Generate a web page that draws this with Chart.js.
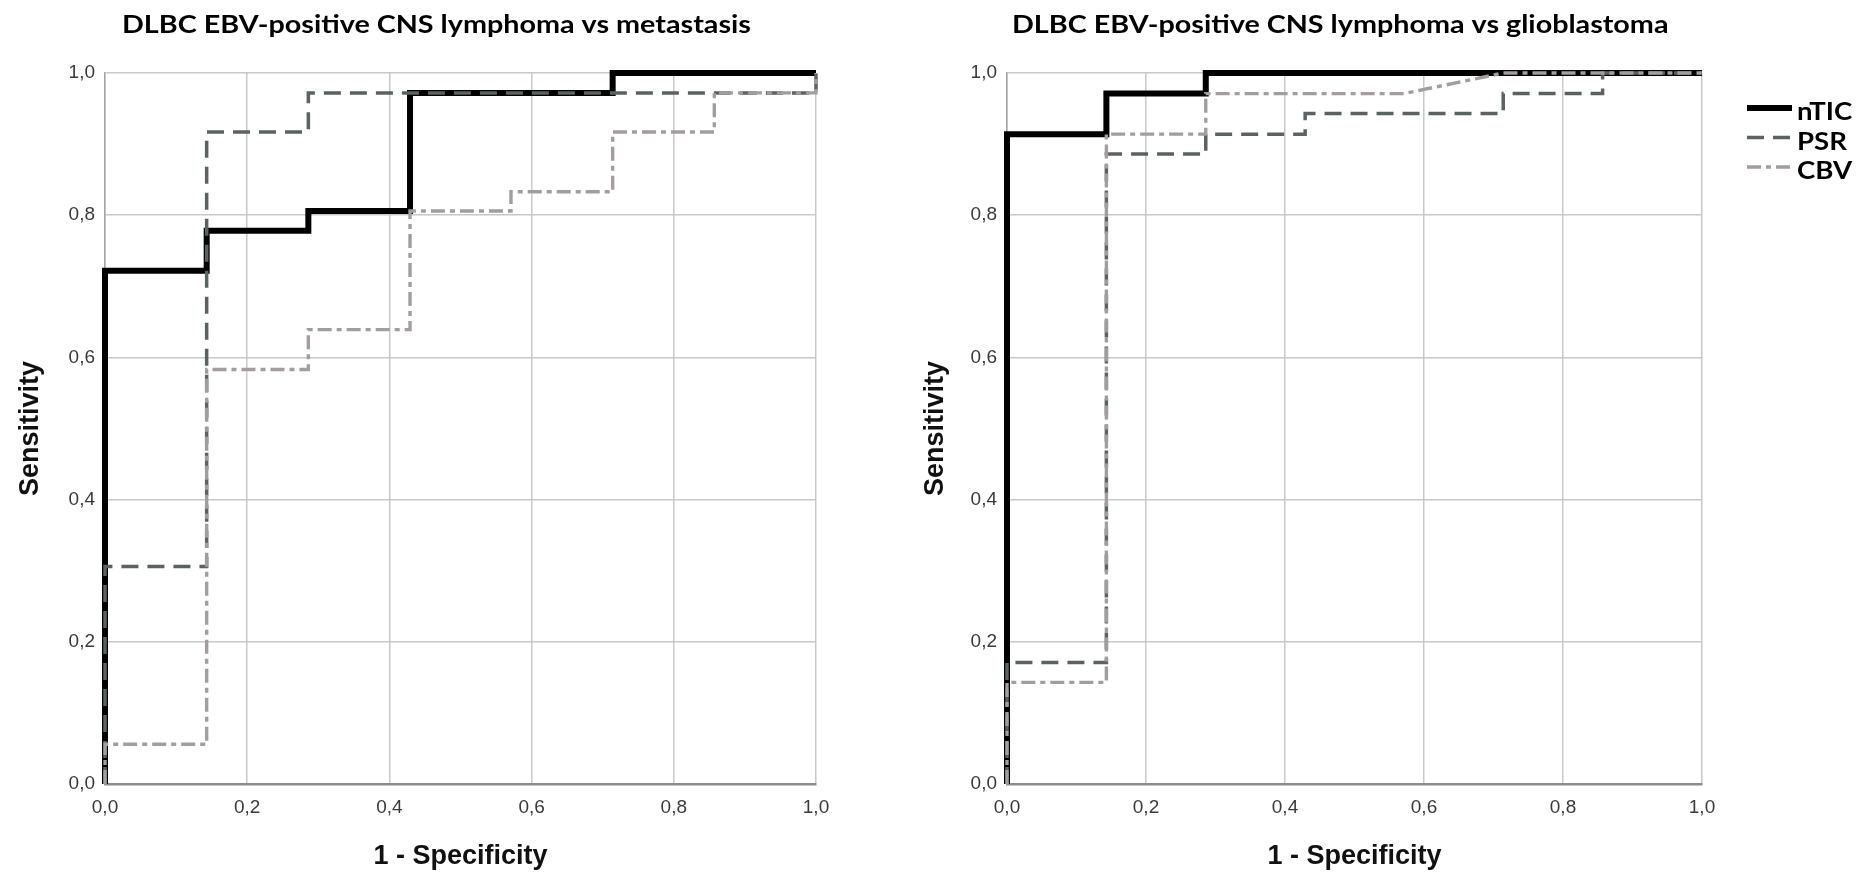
<!DOCTYPE html>
<html><head><meta charset="utf-8">
<script src="https://cdn.jsdelivr.net/npm/chart.js@4.4.1/dist/chart.umd.min.js"></script>
<style>
html,body{margin:0;padding:0;background:#fff;width:1863px;height:876px;overflow:hidden;}
#w1{position:absolute;left:0;top:0;width:900px;height:876px;}
#w2{position:absolute;left:900px;top:0;width:963px;height:876px;}
</style></head><body>
<div id="w1"><canvas id="c1"></canvas></div>
<div id="w2"><canvas id="c2"></canvas></div>
<script>
// ---- data ----
const tickValues = [0, 0.2, 0.4, 0.6, 0.8, 1.0];
const seriesNames = ['nTIC', 'PSR', 'CBV'];
const titleMet = 'DLBC EBV-positive CNS lymphoma vs metastasis';
const titleGbm = 'DLBC EBV-positive CNS lymphoma vs glioblastoma';
const xAxisLabel = '1 - Specificity';
const yAxisLabel = 'Sensitivity';

// lymphoma vs metastasis (x = 1 - specificity, y = sensitivity)
const metNticX = [0, 0, 0.143, 0.143, 0.286, 0.286, 0.429, 0.429, 0.714, 0.714, 1];
const metNticY = [0, 0.722, 0.722, 0.778, 0.778, 0.806, 0.806, 0.972, 0.972, 1, 1];
const metPsrX = [0, 0, 0.143, 0.143, 0.286, 0.286, 1, 1];
const metPsrY = [0, 0.306, 0.306, 0.917, 0.917, 0.972, 0.972, 1];
const metCbvX = [0, 0, 0.143, 0.143, 0.286, 0.286, 0.429, 0.429, 0.571, 0.571, 0.714, 0.714, 0.857, 0.857, 1, 1];
const metCbvY = [0, 0.056, 0.056, 0.583, 0.583, 0.639, 0.639, 0.806, 0.806, 0.833, 0.833, 0.917, 0.917, 0.972, 0.972, 1];

// lymphoma vs glioblastoma
const gbmNticX = [0, 0, 0.143, 0.143, 0.286, 0.286, 1];
const gbmNticY = [0, 0.914, 0.914, 0.971, 0.971, 1, 1];
const gbmPsrX = [0, 0, 0.143, 0.143, 0.286, 0.286, 0.429, 0.429, 0.714, 0.714, 0.857, 0.857, 1];
const gbmPsrY = [0, 0.171, 0.171, 0.886, 0.886, 0.914, 0.914, 0.943, 0.943, 0.971, 0.971, 1, 1];
const gbmCbvX = [0, 0, 0.143, 0.143, 0.286, 0.286, 0.571, 0.714, 1];
const gbmCbvY = [0, 0.143, 0.143, 0.914, 0.914, 0.971, 0.971, 1, 1];

// ---- styles ----
const styles = [
  {color: '#000000', width: 6, dash: []},
  {color: '#5b6361', width: 3.5, dash: [17, 9]},
  {color: '#a39da0', width: 3.4, dash: [14, 5, 5, 5]}
];
const TITLE_FONT = 'bold 25px Lato';

const annotPlugin = {
  id: 'annot',
  afterDraw(chart, args, opts) {
    const ctx = chart.ctx;
    ctx.save();
    ctx.font = TITLE_FONT;
    const ref = ctx.measureText(titleMet).width;
    const sx = opts.refWidth / ref;
    ctx.fillStyle = '#000';
    ctx.textBaseline = 'alphabetic';
    ctx.textAlign = 'left';
    ctx.save();
    ctx.translate(opts.titleX, opts.titleY);
    ctx.scale(sx, 1);
    ctx.fillText(opts.title, 0, 0);
    ctx.restore();
    if (opts.legend) {
      const L = opts.legend;
      ctx.font = 'bold 24px Lato';
      chart.data.datasets.forEach((ds, i) => {
        const y = L.y + i * L.step;
        ctx.save();
        ctx.strokeStyle = ds.borderColor;
        ctx.lineWidth = ds.borderWidth;
        ctx.setLineDash(ds.borderDash || []);
        ctx.lineCap = 'butt';
        ctx.beginPath();
        ctx.moveTo(L.x, y);
        ctx.lineTo(L.x + L.len, y);
        ctx.stroke();
        ctx.restore();
        ctx.save();
        ctx.translate(L.x + L.len + 5, y + 12);
        ctx.scale(sx, 1);
        ctx.fillStyle = '#000';
        ctx.fillText(ds.label, 0, 0);
        ctx.restore();
      });
    }
    ctx.restore();
  }
};

function fmt(v) { return Number(v).toFixed(1).replace('.', ','); }

function makeChart(canvasId, series, cfg) {
  const datasets = series.map((s, i) => ({
    label: seriesNames[i],
    data: s.x.map((v, j) => ({x: v, y: s.y[j]})),
    borderColor: styles[i].color,
    borderWidth: styles[i].width,
    borderDash: styles[i].dash,
    borderCapStyle: 'butt',
    borderJoinStyle: 'miter',
    pointRadius: 0,
    pointHoverRadius: 0,
    tension: 0,
    fill: false,
    showLine: true,
    order: 3 - i,
    clip: false
  }));
  const tickFont = {family: 'Liberation Sans', size: 19};
  const titleFont = {family: 'Liberation Sans', size: 27, weight: 'bold'};
  return new Chart(document.getElementById(canvasId), {
    type: 'scatter',
    data: {datasets},
    plugins: [annotPlugin],
    options: {
      responsive: true,
      maintainAspectRatio: false,
      animation: false,
      devicePixelRatio: 1,
      layout: {padding: {left: 0, top: cfg.padTop, right: cfg.padRight, bottom: 0}},
      plugins: {
        legend: {display: false},
        tooltip: {enabled: false},
        annot: {title: cfg.title, titleX: cfg.titleX, titleY: cfg.titleY, refWidth: 629, legend: cfg.legend}
      },
      scales: {
        x: {
          type: 'linear', min: 0, max: 1,
          afterBuildTicks: s => { s.ticks = tickValues.map(v => ({value: v})); },
          afterFit: s => { s.height = 92; },
          ticks: {callback: fmt, font: tickFont, color: '#3a3a3a', padding: 12, maxRotation: 0, autoSkip: false},
          grid: {color: '#c8c8c8', lineWidth: 1.5, drawTicks: false},
          border: {display: true, color: '#8c8c8c', width: 2.5},
          title: {display: true, text: xAxisLabel, font: titleFont, color: '#111', padding: {top: 0, bottom: 3}}
        },
        y: {
          type: 'linear', min: 0, max: 1,
          afterBuildTicks: s => { s.ticks = tickValues.map(v => ({value: v})); },
          afterFit: s => { s.width = cfg.yWidth; },
          ticks: {callback: fmt, font: tickFont, color: '#3a3a3a', padding: 10, autoSkip: false},
          grid: {color: '#c8c8c8', lineWidth: 1.5, drawTicks: false},
          border: {display: true, color: '#a5a5a5', width: 1.5},
          title: {display: true, text: yAxisLabel, font: titleFont, color: '#111', padding: {top: cfg.yTitlePad, bottom: 0}}
        }
      }
    }
  });
}

makeChart('c1', [
  {x: metNticX, y: metNticY},
  {x: metPsrX, y: metPsrY},
  {x: metCbvX, y: metCbvY}
], {padTop: 73, padRight: 84, yWidth: 105, yTitlePad: 14, title: titleMet, titleX: 122, titleY: 33});

makeChart('c2', [
  {x: gbmNticX, y: gbmNticY},
  {x: gbmPsrX, y: gbmPsrY},
  {x: gbmCbvX, y: gbmCbvY}
], {padTop: 73, padRight: 161, yWidth: 107, yTitlePad: 19, title: titleGbm, titleX: 112, titleY: 33,
    legend: {x: 847, y: 108, step: 29.5, len: 45}});
</script>
</body></html>
